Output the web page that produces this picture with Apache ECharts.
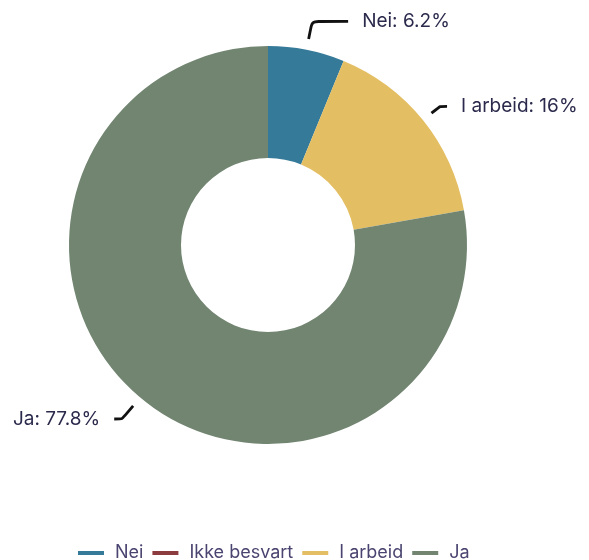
<!DOCTYPE html>
<html>
<head>
<meta charset="utf-8">
<script src="https://cdn.jsdelivr.net/npm/echarts@6/dist/echarts.min.js"></script>
<style>
  html, body { margin: 0; padding: 0; background: #fff; }
  #chart { width: 589px; height: 560px; }
</style>
</head>
<body>
<div id="chart"></div>
<script>
  // svarkategorier og andeler (%)
  var categories = ['Nei', 'Ikke besvart', 'I arbeid', 'Ja'];
  var shares = [6.2, 0, 16, 77.8];
  var colors = ['#357a98', '#8c3b3f', '#e4be62', '#718571'];
  // etikettlinjer: første og vannrett del
  var lineHead = [29, 0, 22, 28];
  var lineTail = [36, 0, 7, 8];

  var chart = echarts.init(document.getElementById('chart'));

  var data = categories.map(function (name, i) {
    var item = {
      name: name,
      value: shares[i],
      labelLine: { length: lineHead[i], length2: lineTail[i] }
    };
    if (!shares[i]) {
      item.label = { show: false };
      item.labelLine = { show: false };
    }
    return item;
  });

  var option = {
    color: colors,
    textStyle: { fontFamily: 'Inter' },
    legend: {
      data: categories,
      left: 73,
      top: 539,
      itemWidth: 26,
      itemHeight: 4,
      itemGap: 9,
      icon: 'rect',
      selectedMode: false,
      textStyle: {
        fontFamily: 'Inter',
        fontSize: 18,
        letterSpacing: -0.3,
        color: '#4a4470',
        padding: [0, 0, 0, 6]
      }
    },
    series: [{
      type: 'pie',
      center: [268, 245],
      radius: [87, 199],
      startAngle: 90,
      clockwise: true,
      avoidLabelOverlap: true,
      silent: true,
      label: {
        show: true,
        formatter: '{b}: {c}%',
        fontFamily: 'Inter',
        fontSize: 19,
        letterSpacing: -0.3,
        color: '#2b2a4c',
        distanceToLabelLine: 14
      },
      labelLine: {
        show: true,
        smooth: 0.15,
        lineStyle: { color: '#111', width: 2.8 }
      },
      labelLayout: function (params) {
        var pts = params.labelLinePoints;
        if (!pts || pts.length < 3) return {};
        var p0 = pts[0], p1 = pts[1];
        var dx = p1[0] - p0[0], dy = p1[1] - p0[1];
        var d = Math.sqrt(dx * dx + dy * dy) || 1;
        var gap = 11;
        return {
          labelLinePoints: [[p0[0] + dx / d * gap, p0[1] + dy / d * gap], p1, pts[2]]
        };
      },
      data: data
    }]
  };

  chart.setOption(option);
</script>
</body>
</html>
